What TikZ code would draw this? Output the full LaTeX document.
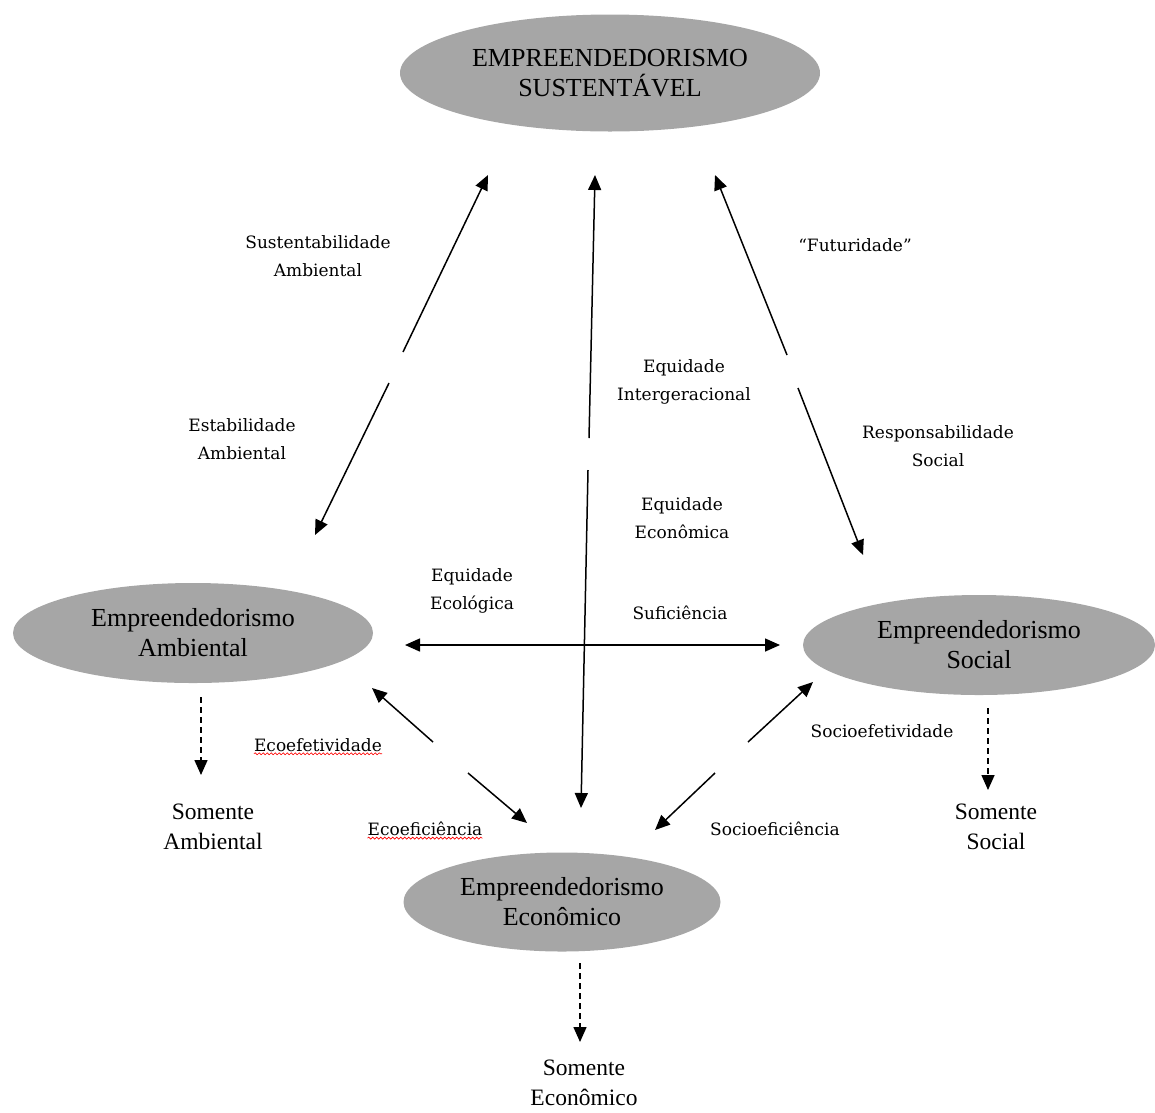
\documentclass[tikz,border=0pt]{standalone}
\usepackage{fontspec}
\setmainfont{Liberation Serif}
\newfontfamily\lblfont{DejaVu Serif}
\usetikzlibrary{arrows.meta,shapes.geometric,decorations.pathmorphing}
\definecolor{ellgray}{RGB}{166,166,166}
\begin{document}
\begin{tikzpicture}[x=1pt,y=-1pt,
  ell/.style={ellipse, fill=ellgray, inner sep=0pt, align=center, font=\fontsize{26}{30}\selectfont},
  lbl/.style={align=center, inner sep=0pt, font=\lblfont\fontsize{17}{28}\selectfont},
  big/.style={align=center, inner sep=0pt, font=\fontsize{23.5}{30}\selectfont},
  arr/.style={line width=1.5pt, -{Triangle[length=15pt,width=13pt]}},
  darr/.style={line width=1.5pt, dash pattern=on 6pt off 4pt, -{Triangle[length=15pt,width=13pt]}},
  biarr/.style={line width=1.5pt, {Triangle[length=15pt,width=13pt]}-{Triangle[length=15pt,width=13pt]}},
  wavy/.style={red, line width=0.6pt, decorate, decoration={snake, amplitude=1pt, segment length=4pt}}
]
\useasboundingbox (0,0) rectangle (1155,1112);

% ellipses
\node[ell, minimum width=420pt, minimum height=117pt] (sust) at (610,73) {EMPREENDEDORISMO\\SUSTENTÁVEL};
\node[ell, minimum width=360pt, minimum height=100pt] (amb) at (193,633) {Empreendedorismo\\Ambiental};
\node[ell, minimum width=352pt, minimum height=100pt] (soc) at (979,645) {Empreendedorismo\\Social};
\node[ell, minimum width=317pt, minimum height=99pt] (eco) at (562,902) {Empreendedorismo\\Econômico};

% "somente" texts
\node[big] (samb) at (213,827) {Somente\\Ambiental};
\node[big] (ssoc) at (996,827) {Somente\\Social};
\node[big] (seco) at (584,1083) {Somente\\Econômico};

% labels
\node[lbl] (l1) at (318,256) {Sustentabilidade\\Ambiental};
\node[lbl] (l2) at (855,245) {“Futuridade”};
\node[lbl] (l3) at (684,382) {Equidade\\Intergeracional};
\node[lbl] (l4) at (242,439) {Estabilidade\\Ambiental};
\node[lbl] (l5) at (938,446) {Responsabilidade\\Social};
\node[lbl] (l6) at (682,518) {Equidade\\Econômica};
\node[lbl] (l7) at (472,591) {Equidade\\Ecológica};
\node[lbl] (l8) at (680,613) {Suficiência};
\node[lbl] (l9) at (318,745) {Ecoefetividade};
\node[lbl] (l10) at (882,731) {Socioefetividade};
\node[lbl] (l11) at (425,829) {Ecoeficiência};
\node[lbl] (l12) at (775,829) {Socioeficiência};

\draw[wavy] ([yshift=-2pt]l9.south west) -- ([yshift=-2pt]l9.south east);
\draw[wavy] ([yshift=-2pt]l11.south west) -- ([yshift=-2pt]l11.south east);

% coordinates for arrow ends
\coordinate (a1s) at (403,352); \coordinate (a1e) at (488,175);
\coordinate (a2s) at (389,383); \coordinate (a2e) at (315,535);
\coordinate (b1s) at (589,438); \coordinate (b1e) at (595,175);
\coordinate (b2s) at (588,470); \coordinate (b2e) at (581,808);
\coordinate (c1s) at (787,355); \coordinate (c1e) at (715,175);
\coordinate (c2s) at (798,388); \coordinate (c2e) at (863,555);
\coordinate (hL) at (405,645); \coordinate (hR) at (780,645);
\coordinate (e1s) at (433,742); \coordinate (e1e) at (372,688);
\coordinate (e2s) at (468,773); \coordinate (e2e) at (527,823);
\coordinate (s1s) at (748,742); \coordinate (s1e) at (813,682);
\coordinate (s2s) at (715,773); \coordinate (s2e) at (655,830);
\coordinate (d1s) at (201,697); \coordinate (d1e) at (201,775);
\coordinate (d2s) at (988,708); \coordinate (d2e) at (988,790);
\coordinate (d3s) at (580,963); \coordinate (d3e) at (580,1042);

\draw[arr] (a1s) -- (a1e);
\draw[arr] (a2s) -- (a2e);
\draw[arr] (b1s) -- (b1e);
\draw[arr] (b2s) -- (b2e);
\draw[arr] (c1s) -- (c1e);
\draw[arr] (c2s) -- (c2e);
\draw[biarr] (hL) -- (hR);
\draw[arr] (e1s) -- (e1e);
\draw[arr] (e2s) -- (e2e);
\draw[arr] (s1s) -- (s1e);
\draw[arr] (s2s) -- (s2e);
\draw[darr] (d1s) -- (d1e);
\draw[darr] (d2s) -- (d2e);
\draw[darr] (d3s) -- (d3e);
\end{tikzpicture}
\end{document}
